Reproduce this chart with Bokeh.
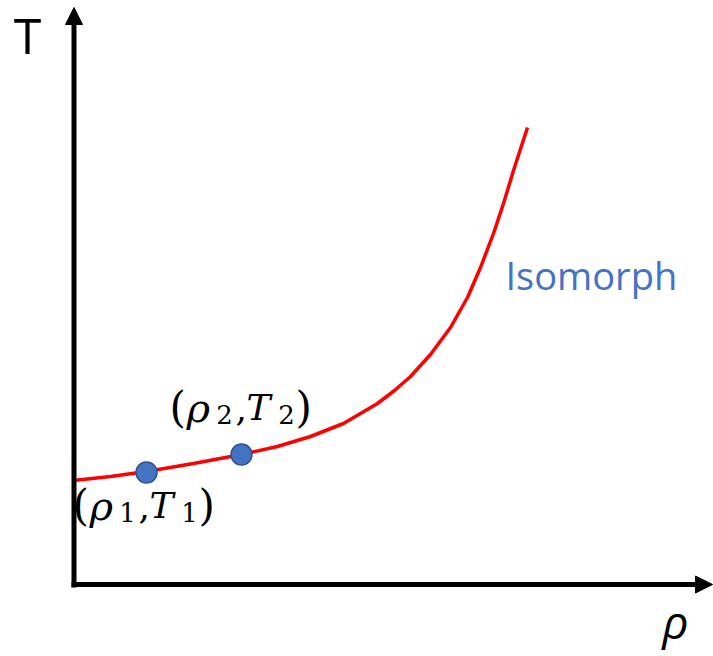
from bokeh.plotting import figure
from bokeh.models import Range1d, Arrow, NormalHead, Label
from bokeh.embed import file_html
from bokeh.resources import INLINE

# Isomorph curve (schematic units)
rho_curve = [0, 37, 73, 120, 168, 204, 237, 270, 304, 321, 337, 357, 377, 394, 407, 420, 430, 440, 454]
T_curve = [104, 108, 113, 121, 130, 138, 148, 161, 181, 194, 208, 230, 257, 287, 317, 351, 381, 414, 457]

# marked state points
rho_points = [73, 168]
T_points = [112, 130]
point_subscripts = ["1", "2"]

curve_label = "Isomorph"
x_label = "ρ"
y_label = "T"

p = figure(width=713, height=656, x_range=Range1d(-73, 640), y_range=Range1d(-72, 584),
           output_backend="svg", toolbar_location=None, min_border=0)
p.axis.visible = False
p.grid.visible = False
p.outline_line_color = None
p.background_fill_color = "white"
p.border_fill_color = "white"

# axes as arrows
p.add_layout(Arrow(end=NormalHead(size=17, fill_color="black", line_color="black"),
                   x_start=0.5, y_start=-3, x_end=0.5, y_end=577,
                   line_width=5, line_color="black"))
p.add_layout(Arrow(end=NormalHead(size=17, fill_color="black", line_color="black"),
                   x_start=-2, y_start=0, x_end=639, y_end=0,
                   line_width=5, line_color="black"))

p.line(rho_curve, T_curve, line_color="#FF0000", line_width=3.5)
p.scatter(rho_points, T_points, size=21, fill_color="#4472C4", line_color="#2F528F", line_width=1.5)

p.add_layout(Label(x=-46, y=550, text=y_label, text_font="Open Sans", text_font_size="50px",
                   text_align="center", text_baseline="alphabetic", text_color="black"))
p.add_layout(Label(x=602, y=-36, text=x_label, text_font="Open Sans", text_font_size="46px",
                   text_font_style="italic", text_align="center", text_baseline="alphabetic",
                   text_color="black"))
p.add_layout(Label(x=432, y=310, text=curve_label, text_font="Open Sans", text_font_size="38px",
                   text_align="left", text_baseline="alphabetic", text_color="#4472C4"))


def point_label(x0, y0, sub):
    pieces = [
        ("(", -3, 0, "42px", "normal", "left"),
        ("ρ", 14, 0, "40px", "italic", "left"),
        (sub, 52, -7, "26px", "normal", "center"),
        (",", 63, 0, "36px", "normal", "left"),
        ("T", 74, 0, "36px", "italic", "left"),
        (sub, 114, -7, "26px", "normal", "center"),
        (")", 123, 0, "42px", "normal", "left"),
    ]
    for txt, dx, dy, size, style, align in pieces:
        p.add_layout(Label(x=x0 + dx, y=y0 + dy, text=txt, text_font="DejaVu Serif",
                           text_font_size=size, text_font_style=style, text_align=align,
                           text_baseline="alphabetic", text_color="black"))


point_label(2, 79, point_subscripts[0])
point_label(99, 177, point_subscripts[1])

open("out.html", "w").write(file_html(p, INLINE))
